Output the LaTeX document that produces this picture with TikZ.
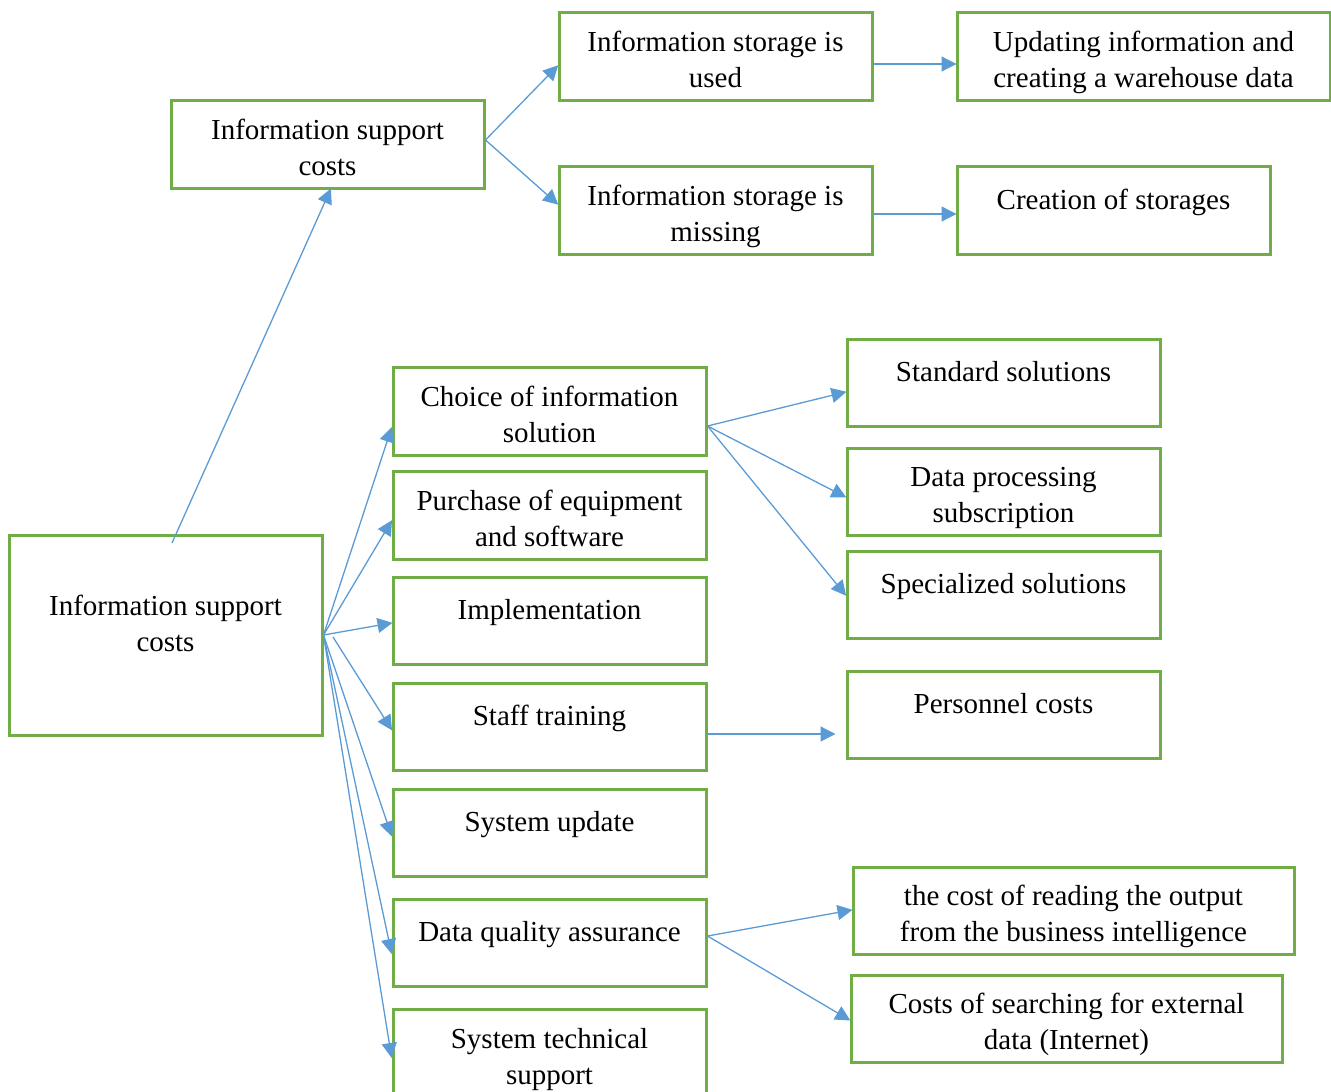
\documentclass[tikz,border=0pt]{standalone}
\usepackage{fontspec}
\setmainfont{Liberation Serif}
\usepackage{tikz}
\usetikzlibrary{arrows.meta}
\definecolor{boxgreen}{RGB}{112,173,71}
\definecolor{arrowblue}{RGB}{91,155,213}
\newcommand{\boxfont}{\fontsize{29}{36}\selectfont}
\tikzset{
    box/.style={
        draw=boxgreen, line width=3pt, fill=white,
        minimum width=313pt, minimum height=88pt,
        inner sep=0pt, align=center, font=\boxfont
    },
    oneline/.style={text height=20pt, text depth=22pt},
    twoline/.style={text height=62pt, text depth=0pt},
    arr/.style={
        draw=arrowblue, line width=1.3pt, shorten >=-1pt,
        -{Triangle[length=15pt,width=15pt]}
    },
}

\begin{document}
\begin{tikzpicture}[x=1pt,y=-1pt]
\useasboundingbox (0,0) rectangle (1331,1092);
\clip (0,0) rectangle (1331,1092);

% Left
\node[box,minimum height=200pt,text height=56pt,text depth=23pt] (main) at (165.5,635) {Information support\\costs};
\node[box,twoline] (isc) at (327.5,144) {Information support\\costs};

% Storage
\node[box,twoline] (used) at (715.5,56) {Information storage is\\used};
\node[box,twoline] (missing) at (715.5,210) {Information storage is\\missing};
\node[box,twoline,minimum width=373pt] (updating) at (1143.5,56) {Updating information and\\creating a warehouse data};
\node[box,oneline] (creation) at (1113.5,210) {Creation of storages};

% Middle column
\node[box,twoline] (choice) at (549.5,411) {Choice of information\\solution};
\node[box,twoline] (purchase) at (549.5,515) {Purchase of equipment\\and software};
\node[box,oneline,minimum height=87pt] (implem) at (549.5,620.5) {Implementation};
\node[box,oneline,minimum height=87pt] (staff) at (549.5,726.5) {Staff training};
\node[box,oneline,minimum height=87pt] (sysupd) at (549.5,832.5) {System update};
\node[box,oneline,minimum height=87pt] (quality) at (549.5,942.5) {Data quality assurance};
\node[box,twoline] (techsup) at (549.5,1053) {System technical\\support};

% Right column
\node[box,oneline,minimum height=87pt] (standard) at (1003.5,382.5) {Standard solutions};
\node[box,twoline,minimum height=87pt] (dataproc) at (1003.5,491.5) {Data processing\\subscription};
\node[box,oneline,minimum height=87pt] (special) at (1003.5,594.5) {Specialized solutions};
\node[box,oneline,minimum height=87pt] (personnel) at (1003.5,714.5) {Personnel costs};
\node[box,twoline,minimum width=441pt,minimum height=87pt] (reading) at (1073.5,910.5) {the cost of reading the output\\from the business intelligence};
\node[box,twoline,minimum width=431pt,minimum height=87pt] (searching) at (1066.5,1018.5) {Costs of searching for external\\data (Internet)};

% Free ends
\coordinate (mainup) at (172,543);
\coordinate (mainoff) at (333,637);

% Arrows up
\draw[arr] (mainup) -- ([xshift=3pt]isc.south);
\draw[arr] ([yshift=4pt]isc.east) -- ([yshift=-10pt]used.west);
\draw[arr] ([yshift=4pt]isc.east) -- ([yshift=6pt]missing.west);
\draw[arr] ([yshift=-8pt]used.east) -- ([yshift=-8pt]updating.west);
\draw[arr] ([yshift=-4pt]missing.east) -- ([yshift=-4pt]creation.west);

% Arrows from main
\draw[arr] (main.east) -- ([yshift=-17pt]choice.west);
\draw[arr] (main.east) -- ([yshift=-6pt]purchase.west);
\draw[arr] (main.east) -- ([yshift=-2.5pt]implem.west);
\draw[arr] (mainoff) -- ([yshift=-3pt]staff.west);
\draw[arr] (main.east) -- ([yshift=-3pt]sysupd.west);
\draw[arr] (main.east) -- ([yshift=-10.5pt]quality.west);
\draw[arr] (main.east) -- ([yshift=-4pt]techsup.west);

% Arrows right
\draw[arr] ([yshift=-15pt]choice.east) -- ([yshift=-9.5pt]standard.west);
\draw[arr] ([yshift=-15pt]choice.east) -- ([yshift=-5.5pt]dataproc.west);
\draw[arr] ([yshift=-15pt]choice.east) -- ([yshift=-0.5pt]special.west);
\draw[arr,shorten >=10pt] ([yshift=-7.5pt]staff.east) -- ([yshift=-19.5pt]personnel.west);
\draw[arr] ([yshift=6.5pt]quality.east) -- ([yshift=0.5pt]reading.west);
\draw[arr] ([yshift=6.5pt]quality.east) -- ([yshift=-1.5pt]searching.west);

\end{tikzpicture}
\end{document}
